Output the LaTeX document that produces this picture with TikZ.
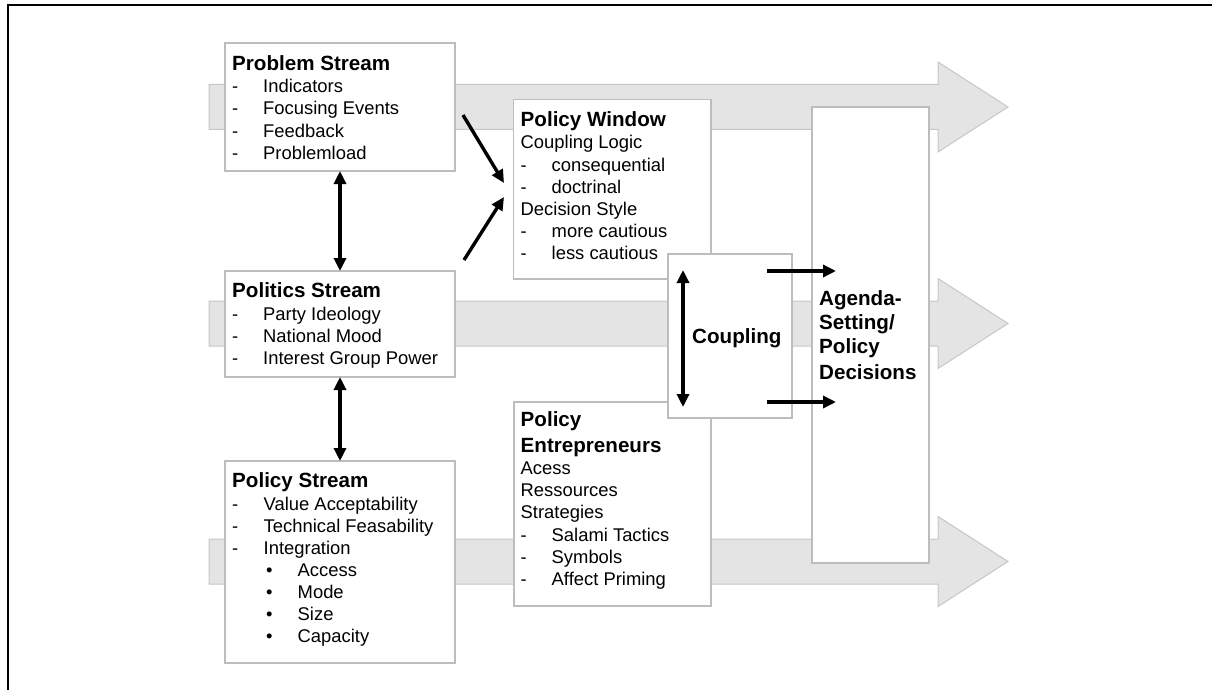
\documentclass[tikz,border=0pt]{standalone}
\usepackage{fontspec}
\setmainfont{Liberation Sans}
\usetikzlibrary{arrows.meta}
\definecolor{bandfill}{HTML}{E4E4E4}
\definecolor{bandline}{HTML}{C6C6C6}
\definecolor{boxline}{HTML}{BDBDBD}
% dash item: name, dash x, text x, baseline, text
\newcommand\ditem[5]{\node[body] (#1d) at (#2,#4) {-};\node[body] (#1) at (#3,#4) {#5};}
% bullet item: name, bullet x, text x, baseline, text
\newcommand\bitem[5]{\node[body] (#1b) at (#2,#4) {•};\node[body] (#1) at (#3,#4) {#5};}
\begin{document}
\begin{tikzpicture}[x=1pt,y=-1pt,
  box/.style={draw=boxline, line width=1.6pt, fill=white, anchor=north west,
              inner sep=0pt, outer sep=0pt},
  band/.style={fill=bandfill, draw=bandline, line width=1pt, line join=miter},
  body/.style={anchor=base west, inner sep=0pt, font=\fontsize{18.4}{22}\selectfont},
  head/.style={anchor=base west, inner sep=0pt, font=\fontsize{20.6}{24}\selectfont\bfseries},
  tip/.tip={Triangle[length=13pt,width=12pt]},
  link/.style={line width=3.4pt, -tip},
  dlink/.style={line width=3.4pt, tip-tip},
]
\useasboundingbox (0,0) rectangle (1212,690);

% page frame
\draw[line width=2.6pt] (8,700) -- (8,5) -- (1220,5);

% the three stream arrows
\foreach \c in {107,323.5,561.5}
  \draw[band] (209,\c-22.5) -- (938,\c-22.5) -- (938,\c-45) -- (1008,\c)
              -- (938,\c+45) -- (938,\c+22.5) -- (209,\c+22.5) -- cycle;

% boxes
\node[box, minimum width=230pt, minimum height=128pt] (prob) at (225,43) {};
\node[box, minimum width=230pt, minimum height=106pt] (pol) at (225,271) {};
\node[box, minimum width=230pt, minimum height=202pt] (pstr) at (225,461) {};
\node[box, minimum width=197.5pt, minimum height=179.5pt] (win) at (513.5,99.5) {};
\node[box, minimum width=197pt, minimum height=204pt] (ent) at (514,402) {};
\node[box, minimum width=117pt, minimum height=456pt] (agenda) at (812,107) {};
\node[box, minimum width=124pt, minimum height=164pt] (coup) at (668,254) {};

% Problem Stream
\node[head] (probt) at (232,71) {Problem Stream};
\ditem{p1}{232}{263}{93}{Indicators}
\ditem{p2}{232}{263}{115}{Focusing Events}
\ditem{p3}{232}{263}{137}{Feedback}
\ditem{p4}{232}{263}{159}{Problemload}

% Politics Stream
\node[head] (polt) at (232,297.5) {Politics Stream};
\ditem{q1}{232}{263}{320}{Party Ideology}
\ditem{q2}{232}{263}{342}{National Mood}
\ditem{q3}{232}{263}{364}{Interest Group Power}

% Policy Stream
\node[head] (pstrt) at (232,487) {Policy Stream};
\ditem{s1}{232}{263.5}{510}{Value Acceptability}
\ditem{s2}{232}{263.5}{532}{Technical Feasability}
\ditem{s3}{232}{263.5}{554}{Integration}
\bitem{s4}{266}{297.5}{576.5}{Access}
\bitem{s5}{266}{297.5}{598.5}{Mode}
\bitem{s6}{266}{297.5}{620.5}{Size}
\bitem{s7}{266}{297.5}{642.5}{Capacity}

% Policy Window
\node[head] (wint) at (520.5,127) {Policy Window};
\node[body] (w1) at (520.5,149) {Coupling Logic};
\ditem{w2}{520.5}{551.5}{171}{consequential}
\ditem{w3}{520.5}{551.5}{193}{doctrinal}
\node[body] (w4) at (520.5,215) {Decision Style};
\ditem{w5}{520.5}{551.5}{237}{more cautious}
\ditem{w6}{520.5}{551.5}{259}{less cautious}

% Policy Entrepreneurs
\node[head] (entt1) at (520.5,426.5) {Policy};
\node[head] (entt2) at (520.5,452.5) {Entrepreneurs};
\node[body] (e1) at (520.5,474.5) {Acess};
\node[body] (e2) at (520.5,496.5) {Ressources};
\node[body] (e3) at (520.5,518.5) {Strategies};
\ditem{e4}{520.5}{551.5}{541}{Salami Tactics}
\ditem{e5}{520.5}{551.5}{563}{Symbols}
\ditem{e6}{520.5}{551.5}{585.5}{Affect Priming}

% Coupling and outcome
\node[head] (coupt) at (692,343) {Coupling};
\node[head] (ag1) at (819,305.7) {Agenda-};
\node[head] (ag2) at (819,329.5) {Setting/};
\node[head] (ag3) at (819,353.5) {Policy};
\node[head] (ag4) at (819,379) {Decisions};

% free arrow ends
\coordinate (d1s) at (463,115);
\coordinate (d1e) at (504,183);
\coordinate (d2s) at (464,260);
\coordinate (d2e) at (504,197);
\coordinate (ct) at (683,270);
\coordinate (cb) at (683,407);
\coordinate (r1s) at (767,271);
\coordinate (r1e) at (836,271);
\coordinate (r2s) at (767,402);
\coordinate (r2e) at (836,402);

% connectors
\draw[dlink] (prob.south) -- (pol.north);
\draw[dlink] (pol.south) -- (pstr.north);
\draw[link] (d1s) -- (d1e);
\draw[link] (d2s) -- (d2e);
\draw[dlink] (ct) -- (cb);
\draw[link] (r1s) -- (r1e);
\draw[link] (r2s) -- (r2e);
\end{tikzpicture}
\end{document}
